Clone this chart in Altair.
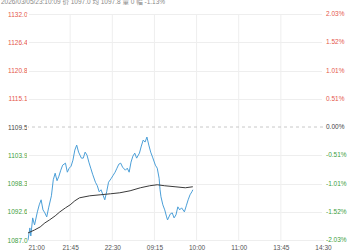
import altair as alt
import pandas as pd

# ---- data ----
minutes = [0, 2, 3, 5, 7, 10, 12, 14, 16, 18,
           20, 22, 25, 27, 29, 31, 33, 35, 37, 40,
           42, 44, 46, 48, 50, 52, 54, 57, 59, 61,
           63, 65, 67, 69, 72, 74, 76, 78, 80, 82,
           84, 86, 89, 91, 93, 95, 97, 99, 101, 104,
           106, 108, 110, 112, 114, 116, 119, 121, 123, 125,
           127, 129, 131, 133, 136, 138, 140, 141, 142, 144,
           146, 148, 149, 152, 154, 156, 158, 160, 162, 164,
           167, 169, 171, 173, 175, 176]
price = [1087.0, 1089.4, 1087.8, 1091.4, 1090.0, 1092.6, 1094.0, 1095.0, 1093.0, 1092.4,
         1091.6, 1093.4, 1095.8, 1099.0, 1100.3, 1098.8, 1099.7, 1100.9, 1101.9, 1102.3,
         1100.5, 1101.3, 1101.7, 1102.9, 1104.9, 1105.9, 1104.5, 1103.3, 1103.3, 1104.5,
         1103.9, 1102.5, 1101.3, 1100.1, 1098.5, 1097.8, 1096.6, 1097.0, 1096.0, 1095.0,
         1096.6, 1098.5, 1099.3, 1099.9, 1100.5, 1101.3, 1102.1, 1102.3, 1101.5, 1100.9,
         1101.3, 1100.5, 1102.5, 1103.7, 1104.3, 1103.3, 1104.3, 1105.7, 1106.9, 1106.5,
         1107.5, 1105.9, 1104.5, 1103.5, 1101.9, 1101.3, 1099.3, 1097.0, 1095.6, 1094.0,
         1093.0, 1091.6, 1091.0, 1092.2, 1092.4, 1091.4, 1092.0, 1093.6, 1093.0, 1093.4,
         1092.6, 1093.8, 1095.0, 1096.0, 1096.6, 1097.0]

avg_minutes = [0, 7, 13, 18, 23, 29, 34, 40, 45, 50, 55, 66, 77, 88, 98, 109,
               120, 130, 138, 146, 157, 168, 176]
avg_price = [1088.4, 1089.0, 1089.6, 1090.4, 1091.0, 1091.8, 1092.6, 1093.4, 1094.0,
             1094.8, 1095.4, 1095.8, 1096.0, 1096.2, 1096.4, 1096.8, 1097.4, 1097.8,
             1098.0, 1097.8, 1097.6, 1097.4, 1097.6]

prev_close = 1109.5
price_ticks = [1087.0, 1092.625, 1098.25, 1103.875, 1109.5, 1115.125, 1120.75, 1126.375, 1132.0]
time_ticks = [0, 45, 90, 135, 180, 225, 270, 315]
time_labels = ["21:00", "21:45", "22:30", "09:15", "10:00", "11:00", "13:45", "14:30"]
header = "2026/03/05/23:10:09  价 1097.0  均 1097.8  量 0  幅 -1.13%"

RED = "#e5584b"
GREEN = "#3d9e3d"
GRAY = "#444444"
GRID = "#eeeeee"
FONT = "Liberation Sans, Noto Sans CJK SC"

price_df = pd.DataFrame({"m": minutes, "p": price})
avg_df = pd.DataFrame({"m": avg_minutes, "p": avg_price})
ref_df = pd.DataFrame({"p": [prev_close]})
vgrid_df = pd.DataFrame({"m": time_ticks[1:-1]})
edge_df = pd.DataFrame({"m": [time_ticks[0], time_ticks[-1]]})
pct_df = pd.DataFrame({"p": price_ticks})
head_df = pd.DataFrame({"t": [header]})

ydom = [price_ticks[0], price_ticks[-1]]
yscale = alt.Scale(domain=ydom, nice=False, zero=False)
xscale = alt.Scale(domain=[time_ticks[0], time_ticks[-1]], nice=False, zero=False)

label_color = {
    "condition": [
        {"test": f"datum.value > {prev_close + 0.01}", "value": RED},
        {"test": f"datum.value < {prev_close - 0.01}", "value": GREEN},
    ],
    "value": GRAY,
}

arr = "[" + ",".join(f"'{t}'" for t in time_labels) + "]"
x_label_expr = f"{arr}[round((datum.value - {time_ticks[0]}) / 45)]"

x_axis = alt.Axis(
    values=time_ticks, labelExpr=x_label_expr, title=None, domain=False, ticks=False,
    grid=False, labelFontSize=6.5, labelColor="#555555", labelPadding=4, labelFlush=False,
    labelAlign={"condition": {"test": "datum.value == 0", "value": "left"}, "value": "center"},
    zindex=0,
)

left_axis = alt.Axis(
    orient="left", values=price_ticks, format=".1f", title=None, domain=False, ticks=False,
    labelFontSize=6.5, labelPadding=1, labelColor=label_color,
    gridColor={"condition": {"test": f"abs(datum.value - {prev_close}) < 0.01", "value": "transparent"},
               "value": GRID},
    zindex=0,
)

# white edge rules keep the left/right plot edges free of frame lines
edge = alt.Chart(edge_df).mark_rule(color="white", strokeWidth=2).encode(
    x=alt.X("m:Q", scale=xscale, axis=x_axis),
)

vgrid = alt.Chart(vgrid_df).mark_rule(color=GRID, strokeWidth=1).encode(
    x=alt.X("m:Q", scale=xscale, axis=x_axis),
)

ref_rule = alt.Chart(ref_df).mark_rule(color="#c8c8c8", strokeDash=[3, 3], strokeWidth=1).encode(
    y=alt.Y("p:Q", scale=yscale, axis=left_axis),
)

price_line = alt.Chart(price_df).mark_line(color="#4b9fd8", strokeWidth=1).encode(
    x=alt.X("m:Q", scale=xscale, axis=x_axis),
    y=alt.Y("p:Q", scale=yscale, axis=left_axis),
)

avg_line = alt.Chart(avg_df).mark_line(color="#3a3a3a", strokeWidth=1).encode(
    x=alt.X("m:Q", scale=xscale, axis=x_axis),
    y=alt.Y("p:Q", scale=yscale, axis=left_axis),
)

pct_labels = alt.Chart(pct_df).transform_calculate(
    lab=(f"(datum.p < {prev_close} - 0.01 ? '-' : '') + "
         f"format(abs(datum.p - {prev_close}) / {prev_close} * 100, '.2f') + '%'"),
    col=(f"datum.p > {prev_close} + 0.01 ? 'up' : (datum.p < {prev_close} - 0.01 ? 'down' : 'flat')"),
).mark_text(align="left", baseline="middle", fontSize=6.5, font=FONT, dx=3).encode(
    x=alt.value(295),
    y=alt.Y("p:Q", scale=yscale, axis=left_axis),
    text="lab:N",
    color=alt.Color("col:N", scale=alt.Scale(domain=["up", "down", "flat"],
                                             range=[RED, GREEN, GRAY]), legend=None),
)

head = alt.Chart(head_df).mark_text(
    align="left", baseline="alphabetic", fontSize=6.5, color="#888888", font=FONT
).encode(x=alt.value(-27), y=alt.value(-10), text="t:N")

chart = alt.layer(edge, vgrid, ref_rule, price_line, avg_line, pct_labels, head).properties(
    width=295, height=226,
    autosize=alt.AutoSizeParams(type="none"),
    padding={"left": 28, "top": 14, "right": 27, "bottom": 10},
).configure_view(strokeWidth=0, strokeOpacity=0).configure_axis(
    domain=False, ticks=False, domainColor="transparent", tickColor="transparent"
).configure_axisX(grid=False).configure(font=FONT)

chart.save("out.html", embed_options={"renderer": "svg", "actions": False})
